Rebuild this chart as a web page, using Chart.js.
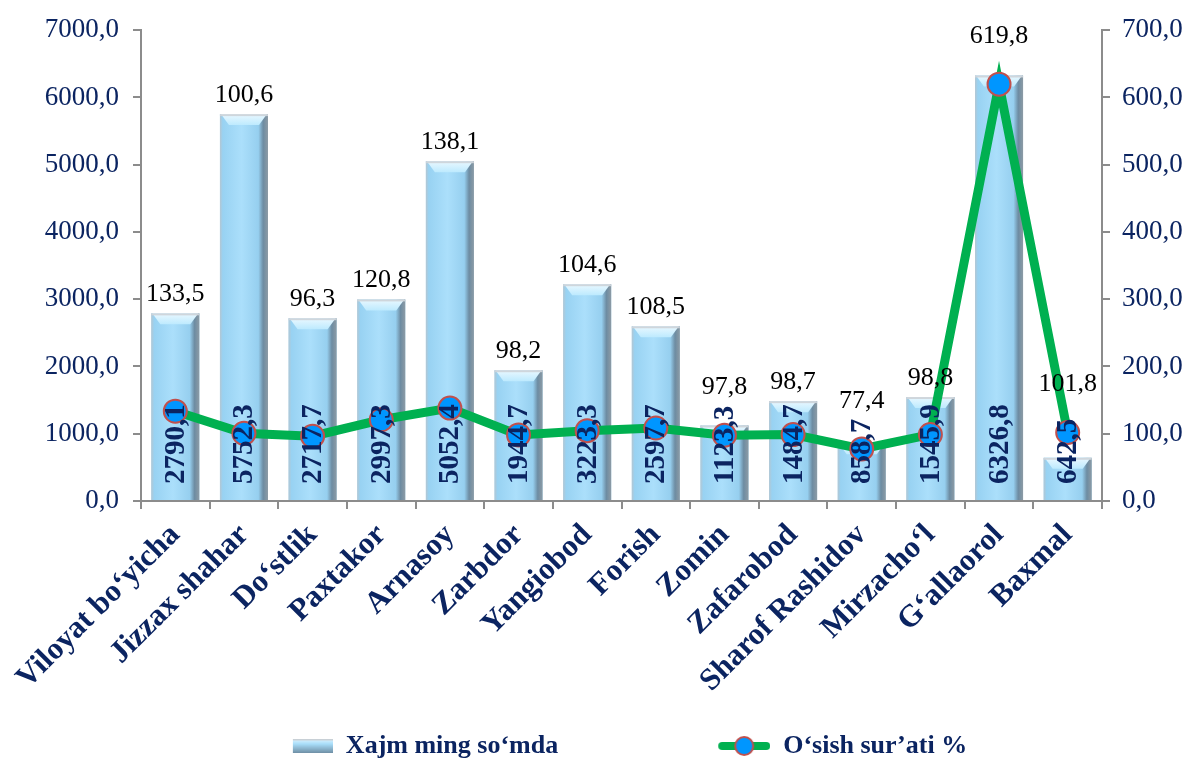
<!DOCTYPE html>
<html><head><meta charset="utf-8">
<script src="https://cdn.jsdelivr.net/npm/chart.js@4"></script>
<style>html,body{margin:0;padding:0;background:#fff}#wrap{width:1189px;height:764px;position:relative}</style>
</head><body><div id="wrap"><canvas id="c"></canvas></div>
<script>
const categories = ["Viloyat bo‘yicha","Jizzax shahar","Do‘stlik","Paxtakor","Arnasoy","Zarbdor","Yangiobod","Forish","Zomin","Zafarobod","Sharof Rashidov","Mirzacho‘l","G‘allaorol","Baxmal"];
const volumeValues = [2790.1, 5752.3, 2717.7, 2997.3, 5052.4, 1944.7, 3223.3, 2597.7, 1123.3, 1484.7, 858.7, 1545.9, 6326.8, 642.5];
const growthValues = [133.5, 100.6, 96.3, 120.8, 138.1, 98.2, 104.6, 108.5, 97.8, 98.7, 77.4, 98.8, 619.8, 101.8];
const seriesNames = ["Xajm ming so‘mda", "O‘sish sur’ati %"];

const FONT = "'Liberation Serif','Times New Roman',serif";
const NAVY = '#0b2461';
const fmt = v => Number(v).toFixed(1).replace('.', ',');

function barGradient(ctx, l, r) {
  const g = ctx.createLinearGradient(l, 0, r, 0);
  g.addColorStop(0, '#b4c6d2');
  g.addColorStop(0.06, '#98d2f2');
  g.addColorStop(0.45, '#abdffb');
  g.addColorStop(0.8, '#96cfef');
  g.addColorStop(0.9, '#6d8ca2');
  g.addColorStop(1, '#8d9ba5');
  return g;
}
function paintBar(ctx, l, t, w, b) {
  const r = l + w;
  ctx.save();
  ctx.fillStyle = barGradient(ctx, l, r);
  ctx.fillRect(l, t, w, b - t);
  const bv = Math.min(11, (b - t) / 2);
  const tg = ctx.createLinearGradient(0, t, 0, t + bv);
  tg.addColorStop(0, '#eaf8ff');
  tg.addColorStop(1, '#bdeafe');
  ctx.beginPath();
  ctx.moveTo(l + 1, t); ctx.lineTo(r - 1, t); ctx.lineTo(r - 9, t + bv); ctx.lineTo(l + 9, t + bv); ctx.closePath();
  ctx.fillStyle = tg; ctx.fill();
  ctx.fillStyle = 'rgba(205,212,218,0.95)';
  ctx.fillRect(l, t, w, 2);
  ctx.restore();
}

// legend icons
const ICON_W = 202, ICON_H = 26;
function makeBarIcon() {
  const c = document.createElement('canvas'); c.width = ICON_W; c.height = ICON_H;
  const x = c.getContext('2d');
  const l = ICON_W - 40, t = 6, b = 20;
  const g = x.createLinearGradient(0, t, 0, b);
  g.addColorStop(0, '#dff4ff'); g.addColorStop(0.35, '#a9defa'); g.addColorStop(1, '#6f8fa5');
  x.fillStyle = g; x.fillRect(l, t, 40, b - t);
  x.fillStyle = '#c8d0d6'; x.fillRect(l, t, 40, 1.5);
  return c;
}
function makeLineIcon() {
  const c = document.createElement('canvas'); c.width = ICON_W; c.height = ICON_H;
  const x = c.getContext('2d');
  const l = ICON_W - 52;
  x.strokeStyle = '#00b050'; x.lineWidth = 8; x.lineCap = 'round';
  x.beginPath(); x.moveTo(l + 4, 13); x.lineTo(ICON_W - 4, 13); x.stroke();
  x.beginPath(); x.arc(l + 26, 13, 9, 0, Math.PI * 2);
  x.fillStyle = '#0096ff'; x.fill();
  x.strokeStyle = '#c0504d'; x.lineWidth = 2; x.stroke();
  return c;
}
const barIcon = makeBarIcon(), lineIcon = makeLineIcon();
const PADTAIL = '\u00a0'.repeat(14);

const decor = {
  id: 'decor',
  afterDatasetDraw(chart, args) {
    if (args.index !== 0) return;
    const ctx = chart.ctx;
    args.meta.data.forEach(el => {
      const p = el.getProps(['x', 'y', 'base', 'width'], true);
      paintBar(ctx, p.x - p.width / 2, p.y, p.width, p.base);
    });
  },
  afterDatasetsDraw(chart) {
    const ctx = chart.ctx;
    const bars = chart.getDatasetMeta(0).data;
    const pts = chart.getDatasetMeta(1).data;
    ctx.save();
    ctx.font = 'bold 29px ' + FONT;
    ctx.fillStyle = NAVY;
    ctx.textAlign = 'left';
    ctx.textBaseline = 'middle';
    bars.forEach((el, i) => {
      const p = el.getProps(['x', 'y', 'base'], true);
      ctx.save();
      ctx.translate(p.x, p.base - 16);
      ctx.rotate(-Math.PI / 2);
      ctx.fillText(fmt(volumeValues[i]), 0, 1);
      ctx.restore();
    });
    ctx.font = '26px ' + FONT;
    ctx.fillStyle = '#000';
    ctx.textAlign = 'center';
    bars.forEach((el, i) => {
      const p = el.getProps(['x', 'y'], true);
      const pt = pts[i].getProps(['y'], true);
      const y = Math.min(p.y - 19, pt.y - 48);
      ctx.fillText(fmt(growthValues[i]), p.x, y);
    });
    ctx.restore();
  }
};

const axisGrid = { display: true, drawOnChartArea: false, tickLength: 8, color: '#8c8c8c', lineWidth: 2 };

new Chart(document.getElementById('c'), {
  data: {
    labels: categories,
    datasets: [
      {
        type: 'bar', label: seriesNames[0], data: volumeValues, yAxisID: 'y',
        backgroundColor: '#a6dcf8', borderWidth: 0,
        barPercentage: 0.7, categoryPercentage: 1.0, order: 2
      },
      {
        type: 'line', label: seriesNames[1], data: growthValues, yAxisID: 'y1',
        borderColor: '#00b050', borderWidth: 9, tension: 0,
        pointRadius: 11.5, pointBackgroundColor: '#0096ff', pointBorderColor: '#c0504d', pointBorderWidth: 2,
        order: 1
      }
    ]
  },
  options: {
    responsive: true, maintainAspectRatio: false, animation: false,
    layout: { padding: { top: 27, left: 0, right: 0, bottom: -5 } },
    plugins: {
      tooltip: { enabled: false },
      legend: {
        position: 'bottom',
        labels: {
          usePointStyle: true, pointStyleWidth: ICON_W, padding: 10,
          font: { family: FONT, size: 26, weight: 'bold' }, color: NAVY,
          generateLabels: chart => chart.data.datasets.map((ds, i) => ({
            text: i === 1 ? ds.label + PADTAIL : ds.label, pointStyle: i === 0 ? barIcon : lineIcon,
            fillStyle: 'transparent', strokeStyle: 'transparent', lineWidth: 0,
            fontColor: NAVY, datasetIndex: i, hidden: false
          }))
        }
      }
    },
    scales: {
      x: {
        offset: true,
        grid: Object.assign({}, axisGrid, { offset: true }),
        border: { color: '#8c8c8c', width: 2 },
        ticks: { maxRotation: 45, minRotation: 45, autoSkip: false, padding: 8,
          font: { family: FONT, size: 31, weight: 'bold' }, color: NAVY },
        afterFit: s => { s.height = 222; }
      },
      y: {
        position: 'left', min: 0, max: 7000,
        grid: axisGrid, border: { color: '#8c8c8c', width: 2 },
        ticks: { stepSize: 1000, padding: 14, callback: v => fmt(v),
          font: { family: FONT, size: 27 }, color: NAVY },
        afterFit: s => { s.width = 141; }
      },
      y1: {
        position: 'right', min: 0, max: 700,
        grid: axisGrid, border: { color: '#8c8c8c', width: 2 },
        ticks: { stepSize: 100, padding: 12, callback: v => fmt(v),
          font: { family: FONT, size: 27 }, color: NAVY },
        afterFit: s => { s.width = 87; }
      }
    }
  },
  plugins: [decor]
});
</script>
</body></html>
